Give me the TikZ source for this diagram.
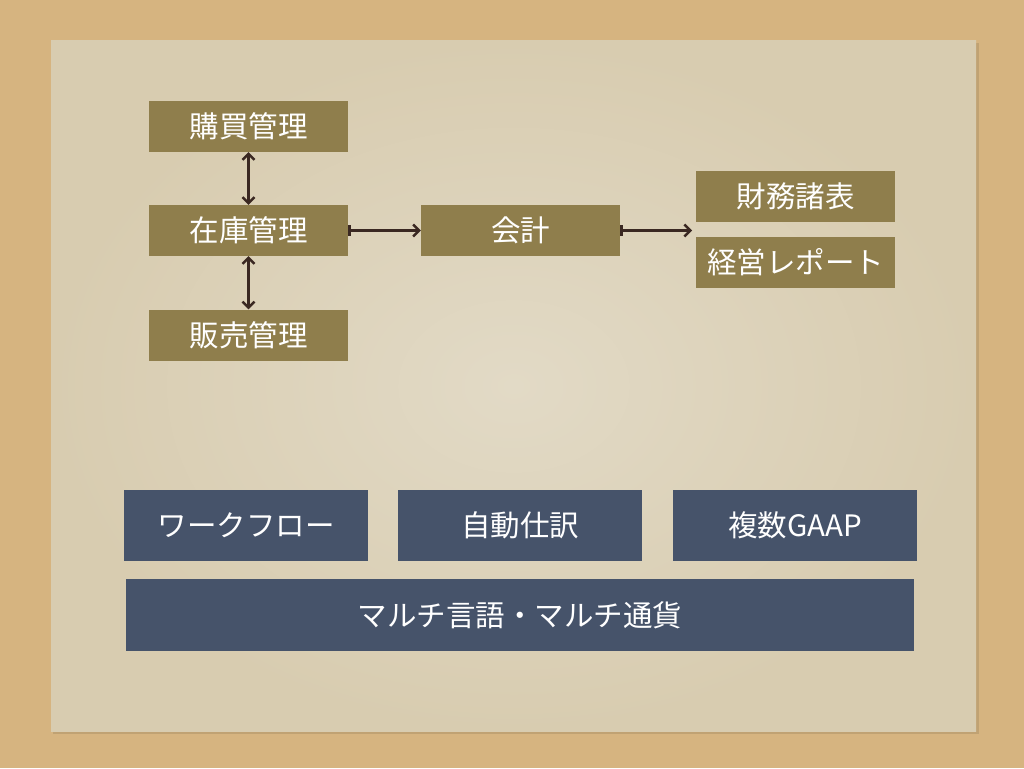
\documentclass[tikz,border=0pt]{standalone}
\usepackage{fontspec}
\setmainfont{Noto Sans CJK JP}
\usetikzlibrary{arrows.meta}
\definecolor{cork}{RGB}{214,180,128}
\definecolor{paper}{RGB}{226,218,198}
\definecolor{paperedge}{RGB}{216,204,176}
\definecolor{olive}{RGB}{143,126,76}
\definecolor{navy}{RGB}{70,83,106}
\definecolor{arrowc}{RGB}{58,40,34}
\tikzset{
  box/.style={draw=none, inner sep=0pt, text=white, font=\fontsize{29.5}{29.5}\selectfont},
  obox/.style={box, fill=olive, minimum width=199pt, minimum height=51pt},
  nbox/.style={box, fill=navy, minimum width=244pt, minimum height=71pt},
  link/.style={draw=arrowc, line width=2.4pt},
}
\begin{document}
\begin{tikzpicture}[x=1pt,y=-1pt]
\useasboundingbox (0,0) rectangle (1024,768);
\fill[cork] (0,0) rectangle (1024,768);
\fill[black!25!cork, opacity=0.4] (53,43) rectangle (979,734);
\shade[inner color=paper, outer color=paperedge] (51,41) rectangle (976,731);
% olive nodes
\node[obox] (buy) at (248.5,126.5) {購買管理};
\node[obox] (inv) at (248.5,230.5) {在庫管理};
\node[obox] (sal) at (248.5,335) {販売管理};
\node[obox] (acc) at (520.5,230.5) {会計};
\node[obox] (fin) at (795.5,196.5) {財務諸表};
\node[obox] (rep) at (795.5,262.5) {経営レポート};
\coordinate (out) at (692,230.5);
% connectors
\draw[link, {Straight Barb[length=6pt,width=12pt]}-{Straight Barb[length=6pt,width=12pt]}] (buy.south) -- (inv.north);
\draw[link, {Straight Barb[length=6pt,width=12pt]}-{Straight Barb[length=6pt,width=12pt]}] (inv.south) -- (sal.north);
\draw[link, {Bar[width=11pt]}-{Straight Barb[length=6pt,width=12pt]}] (inv.east) -- (acc.west);
\draw[link, {Bar[width=11pt]}-{Straight Barb[length=6pt,width=12pt]}] (acc.east) -- (out);
% navy nodes
\node[nbox] (wf) at (246,525.5) {ワークフロー};
\node[nbox] (aj) at (520,525.5) {自動仕訳};
\node[nbox] (gaap) at (795,525.5) {\raisebox{3pt}{複数GAAP}};
\node[nbox, minimum width=788pt, minimum height=72pt] (multi) at (520,615) {マルチ言語・マルチ通貨};
\end{tikzpicture}
\end{document}
